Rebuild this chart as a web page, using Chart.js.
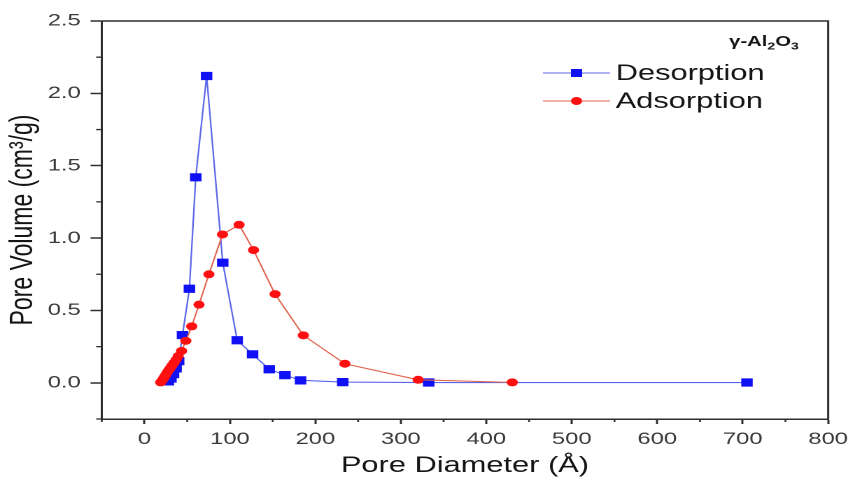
<!DOCTYPE html>
<html>
<head>
<meta charset="utf-8">
<script src="https://cdn.jsdelivr.net/npm/chart.js@4.4.1/dist/chart.umd.min.js"></script>
<style>
  html, body { margin: 0; padding: 0; background: #fff; }
  #chart { display: block; }
</style>
</head>
<body>
<!-- the source figure is stretched sideways, so the canvas is drawn narrow and widened by css -->
<canvas id="chart" width="611" height="480" style="width:855px;height:480px"></canvas>
<script>
const desorptionX = [28, 31, 34, 37, 40, 44.5, 52.6, 60, 72.7, 91.6, 108.5, 126.5, 146, 164.4, 182.6, 232, 332.6, 705];
const desorptionY = [0.01, 0.03, 0.06, 0.1, 0.15, 0.33, 0.65, 1.42, 2.12, 0.83, 0.294, 0.197, 0.094, 0.053, 0.017, 0.005, 0.002, 0.002];

const adsorptionX = [19, 20.5, 22, 23.5, 25, 26.5, 28, 30, 32, 34.5, 37, 39.5, 43.4, 48.4, 55.3, 63.8, 75.4, 91.3, 110.7, 127.6, 152.8, 185.9, 234.5, 320.2, 430.4];
const adsorptionY = [0.003, 0.015, 0.028, 0.042, 0.056, 0.07, 0.085, 0.1, 0.118, 0.138, 0.16, 0.185, 0.22, 0.29, 0.39, 0.54, 0.75, 1.025, 1.092, 0.917, 0.613, 0.328, 0.132, 0.021, 0.003];

const seriesNames = ['Desorption', 'Adsorption'];
const xTitle = 'Pore Diameter (Å)';
const yTitle = 'Pore Volume (cm³/g)';

const FONT = "'Liberation Sans', Arial, sans-serif";
const BLUE = '#1010f5';
const BLUE_LINE = '#5a66e8';
const RED = '#ff1010';
const RED_LINE = '#e0654f';
const AXIS = '#2e2e2e';

const toPoints = (xs, ys) => xs.map((x, i) => ({ x, y: ys[i] }));
const isMajorX = (v) => Math.round(v) % 100 === 0;
const isMajorY = (v) => Math.abs(Math.round(v * 4)) % 2 === 0;

const frameAndLegend = {
  id: 'frameAndLegend',
  afterDraw(chart) {
    const { ctx, chartArea: a, scales } = chart;
    ctx.save();

    // top and right sides of the box
    ctx.strokeStyle = AXIS;
    ctx.lineWidth = 1.5;
    ctx.beginPath();
    ctx.moveTo(a.left, a.top);
    ctx.lineTo(a.right, a.top);
    ctx.lineTo(a.right, a.bottom);
    ctx.stroke();

    // minor ticks, shorter than the major ones
    ctx.lineWidth = 1.3;
    ctx.beginPath();
    scales.x.ticks.filter((t) => !isMajorX(t.value)).forEach((t) => {
      const px = scales.x.getPixelForValue(t.value);
      ctx.moveTo(px, a.bottom);
      ctx.lineTo(px, a.bottom + 3);
    });
    scales.y.ticks.filter((t) => !isMajorY(t.value)).forEach((t) => {
      const py = scales.y.getPixelForValue(t.value);
      ctx.moveTo(a.left, py);
      ctx.lineTo(a.left - 4, py);
    });
    ctx.stroke();

    // legend
    const rows = [
      { label: seriesNames[0], line: BLUE_LINE, mark: BLUE, square: true, y: 73 },
      { label: seriesNames[1], line: RED_LINE, mark: RED, square: false, y: 101 },
    ];
    rows.forEach((r) => {
      ctx.strokeStyle = r.line;
      ctx.lineWidth = 1;
      ctx.beginPath();
      ctx.moveTo(388, r.y);
      ctx.lineTo(436, r.y);
      ctx.stroke();
      ctx.fillStyle = r.mark;
      ctx.beginPath();
      if (r.square) ctx.rect(412 - 4, r.y - 4, 8, 8);
      else ctx.arc(412, r.y, 4, 0, Math.PI * 2);
      ctx.fill();
      ctx.fillStyle = '#151515';
      ctx.font = `22px ${FONT}`;
      ctx.textBaseline = 'middle';
      ctx.fillText(r.label, 440, r.y + 1);
    });

    // sample name with subscripts
    ctx.textBaseline = 'alphabetic';
    let tx = 521;
    const parts = [['γ-Al', 14.5, 46], ['2', 10, 49.5], ['O', 14.5, 46], ['3', 10, 49.5]];
    parts.forEach(([s, size, base]) => {
      ctx.font = `bold ${size}px ${FONT}`;
      ctx.fillText(s, tx, base);
      tx += ctx.measureText(s).width;
    });

    ctx.restore();
  },
};

new Chart(document.getElementById('chart'), {
  type: 'line',
  data: {
    datasets: [
      {
        label: seriesNames[0],
        data: toPoints(desorptionX, desorptionY),
        borderColor: BLUE_LINE,
        borderWidth: 1.1,
        pointStyle: 'rect',
        pointRadius: 5.8,
        pointBackgroundColor: BLUE,
        pointBorderColor: BLUE,
        pointBorderWidth: 0,
        tension: 0,
        order: 2,
      },
      {
        label: seriesNames[1],
        data: toPoints(adsorptionX, adsorptionY),
        borderColor: RED_LINE,
        borderWidth: 1.1,
        pointStyle: 'circle',
        pointRadius: 4,
        pointBackgroundColor: RED,
        pointBorderColor: RED,
        pointBorderWidth: 0,
        tension: 0,
        order: 1,
      },
    ],
  },
  options: {
    responsive: false,
    animation: false,
    devicePixelRatio: 2,
    layout: { padding: { top: 21, right: 16, bottom: 0, left: 0 } },
    plugins: {
      legend: { display: false },
      tooltip: { enabled: false },
    },
    scales: {
      x: {
        type: 'linear',
        min: -50,
        max: 800,
        afterFit: (s) => { s.height = 61; },
        ticks: {
          stepSize: 50,
          autoSkip: false,
          maxRotation: 0,
          padding: 5,
          color: '#3a3a3a',
          font: { family: FONT, size: 17 },
          callback: (v) => (isMajorX(v) && v >= 0 ? String(v) : ''),
        },
        grid: {
          drawOnChartArea: false,
          tickLength: 5,
          tickWidth: 1.5,
          tickColor: (c) => (c.tick && isMajorX(c.tick.value) ? AXIS : 'rgba(0,0,0,0)'),
        },
        border: { color: AXIS, width: 1.5 },
        title: {
          display: true,
          text: xTitle,
          color: '#151515',
          font: { family: FONT, size: 22 },
          padding: { top: 0, bottom: 1 },
        },
      },
      y: {
        min: -0.25,
        max: 2.5,
        afterFit: (s) => { s.width = 72.7; },
        ticks: {
          stepSize: 0.25,
          autoSkip: false,
          padding: 7,
          color: '#3a3a3a',
          font: { family: FONT, size: 17 },
          callback: (v) => (isMajorY(v) ? v.toFixed(1) : ''),
        },
        grid: {
          drawOnChartArea: false,
          tickLength: 8,
          tickWidth: 1.5,
          tickColor: (c) => (c.tick && isMajorY(c.tick.value) ? AXIS : 'rgba(0,0,0,0)'),
        },
        border: { color: AXIS, width: 1.5 },
        title: {
          display: true,
          text: yTitle,
          color: '#151515',
          font: { family: FONT, size: 23 },
          padding: { top: 3, bottom: 0 },
        },
      },
    },
  },
  plugins: [frameAndLegend],
});
</script>
</body>
</html>
